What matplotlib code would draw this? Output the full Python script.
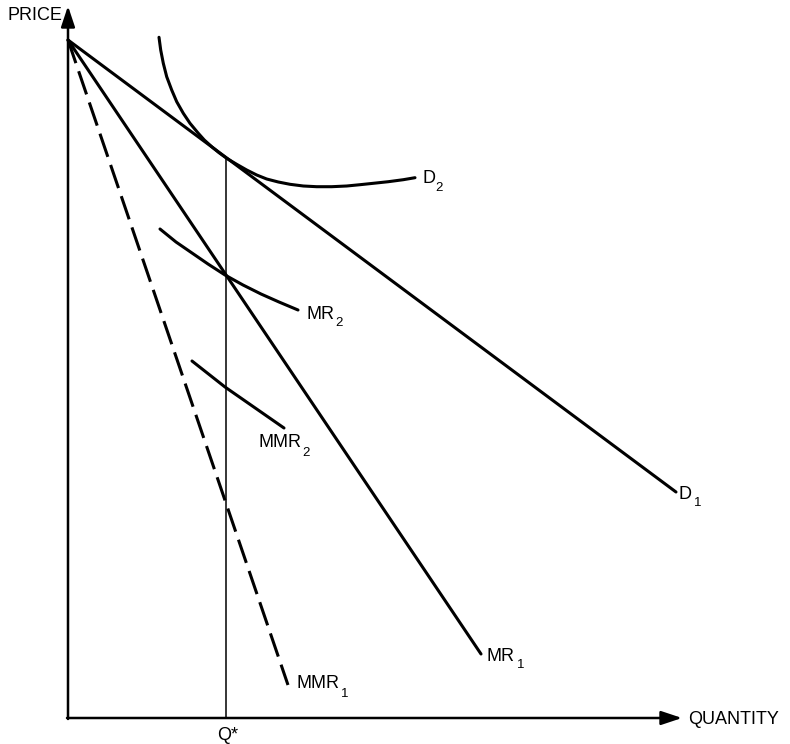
import matplotlib
matplotlib.use("Agg")
import matplotlib.pyplot as plt

plt.rcParams['font.family'] = ['Liberation Sans', 'DejaVu Sans']

# values (quantity, price in arbitrary units)
d1_q = [0, 608]
d1_p = [678, 226]
mr1_q = [0, 413]
mr1_p = [678, 64]
mmr1_q = [0, 220]
mmr1_p = [678, 33]

d2_q = [91.0, 92.7, 95.3, 98.7, 103.7, 108.7, 115.3, 122.0, 130.3, 136.3,
        143.7, 151.0, 158.7, 168.7, 178.7, 188.7, 198.7, 210.3, 222.0, 235.3,
        248.7, 263.7, 278.7, 292.0, 305.3, 320.3, 335.3, 347.0]
d2_p = [680.7, 668.0, 654.7, 641.3, 628.0, 616.3, 604.7, 594.7, 584.7, 578.0,
        571.3, 565.3, 559.7, 553.7, 548.0, 543.0, 539.0, 536.0, 533.7, 532.0,
        531.3, 531.3, 532.0, 533.3, 534.7, 536.3, 538.3, 540.3]

mr2_q = [92, 108, 124, 140, 157, 175, 193, 211, 230]
mr2_p = [489, 476, 465, 454, 443, 433, 424, 416, 408]

mmr2_q = [124, 157, 216]
mmr2_p = [357, 331, 290]

q_star = 158
q_star_top = 560

# curve labels: name, subscript, main position, subscript position
labels = [
    ('D', '2', (354, 535), (367, 527)),
    ('MR', '2', (238, 399), (267, 392)),
    ('MMR', '2', (190, 271), (234, 262)),
    ('D', '1', (611, 219), (626, 212)),
    ('MR', '1', (419, 57), (449, 50)),
    ('MMR', '1', (228, 30), (273, 21)),
]

fig = plt.figure(figsize=(7.9, 7.44), dpi=100)
ax = fig.add_axes([0, 0, 1, 1])
ax.set_xlim(-68, 722)
ax.set_ylim(-26, 718)
ax.axis('off')

lw = 2.2
ax.plot(d1_q, d1_p, color='black', lw=lw, solid_capstyle='round')
ax.plot(mr1_q, mr1_p, color='black', lw=lw, solid_capstyle='round')
ax.plot(mmr1_q, mmr1_p, color='black', lw=lw, dashes=(8, 2.8))
ax.plot(d2_q, d2_p, color='black', lw=lw, solid_capstyle='round',
        solid_joinstyle='round')
ax.plot(mr2_q, mr2_p, color='black', lw=lw, solid_capstyle='round',
        solid_joinstyle='round')
ax.plot(mmr2_q, mmr2_p, color='black', lw=lw, solid_capstyle='round')
ax.plot([q_star, q_star], [0, q_star_top], color='black', lw=1.1)

# axes with arrows
arrow = dict(arrowstyle='-|>,head_length=0.9,head_width=0.3', lw=1.8,
             color='black', mutation_scale=14, shrinkA=0, shrinkB=0)
ax.annotate('', xy=(0, 712), xytext=(0, -1), arrowprops=arrow)
ax.annotate('', xy=(614, 0), xytext=(-1, 0), arrowprops=arrow)

fs = 13
ax.text(-6, 702, 'PRICE', fontsize=fs, ha='right', va='center')
ax.text(620, -1, 'QUANTITY', fontsize=fs, ha='left', va='center')
ax.text(160, -17, 'Q*', fontsize=fs, ha='center', va='center')

for name, sub, (x, y), (sx, sy) in labels:
    ax.text(x, y, name, fontsize=fs, ha='left', va='baseline')
    ax.text(sx, sy, sub, fontsize=9.5, ha='left', va='baseline')

fig.savefig('out.png', dpi=100, facecolor='white')
